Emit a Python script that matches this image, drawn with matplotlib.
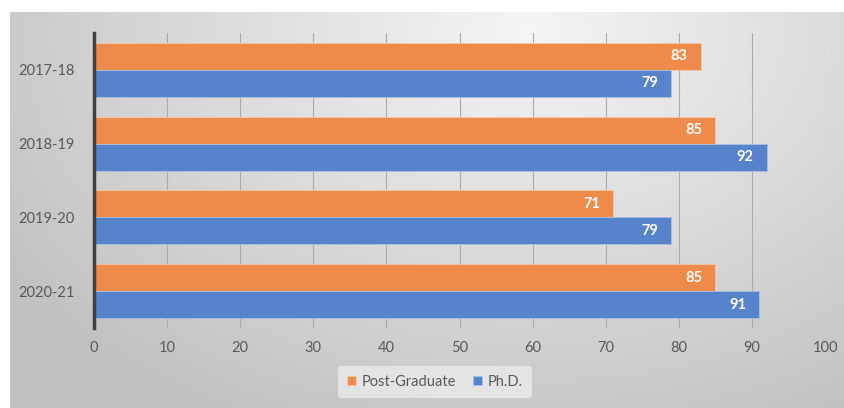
import numpy as np
import matplotlib
matplotlib.use("Agg")
import matplotlib.pyplot as plt

plt.rcParams['font.family'] = ['Lato', 'DejaVu Sans']

years = ["2017-18", "2018-19", "2019-20", "2020-21"]
post_grad = [83, 85, 71, 85]
phd = [79, 92, 79, 91]

fig = plt.figure(figsize=[8.45, 4.08], dpi=100)

# gradient background of the chart frame
bg = fig.add_axes([10/845, 0, 835/845, 1 - 12/408], zorder=0)
yy, xx = np.mgrid[0:1:200j, 0:1:400j]
r = np.sqrt(((xx - 0.62) / 0.75) ** 2 + ((yy - 0.05) / 1.1) ** 2)
g = np.clip(0.96 - 0.2 * r, 0.76, 0.96)
bg.imshow(np.dstack([g, g, g]), aspect="auto", extent=[0, 1, 0, 1], origin="upper")
bg.set_axis_off()

ax = fig.add_axes([94/845, 1 - 328/408, 731/845, 295/408], zorder=1)
ax.patch.set_alpha(0)

y = np.arange(len(years))
h = 0.365
b1 = ax.barh(y - h/2, post_grad, h, color="#EE8B4B", edgecolor="#f6c9a8", linewidth=0.6, label="Post-Graduate", zorder=3)
b2 = ax.barh(y + h/2, phd, h, color="#5683CC", edgecolor="#a9c0e6", linewidth=0.6, label="Ph.D.", zorder=3)

for bars in (b1, b2):
    for rect in bars:
        w = rect.get_width()
        ax.text(w - 1.8, rect.get_y() + rect.get_height()/2, "{}".format(int(w)),
                ha="right", va="center", color="white", fontsize=10.5, fontweight="bold", zorder=4)

ax.set_xlim(0, 100)
ax.set_ylim(3.5, -0.5)
ax.set_xticks(range(0, 101, 10))
ax.set_yticks(y)
ax.set_yticklabels(years)
ax.grid(axis="x", color="#ababab", linewidth=0.8, zorder=0)
ax.tick_params(length=0, labelsize=10.5, colors="#595959", pad=9)
ax.tick_params(axis="y", pad=14)
for s in ["top", "right", "bottom"]:
    ax.spines[s].set_visible(False)
ax.spines["left"].set_color("#404040")
ax.spines["left"].set_linewidth(2.5)
ax.spines["left"].set_zorder(5)

leg = fig.legend(loc="center", bbox_to_anchor=(435/845, 1 - 382/408), ncol=2,
                 frameon=True, fontsize=10.5, handlelength=0.6, handleheight=0.6,
                 columnspacing=1.2, handletextpad=0.4, borderpad=0.6)
leg.get_frame().set_facecolor("#ebebeb")
leg.get_frame().set_edgecolor("none")
leg.get_frame().set_alpha(0.8)
for t in leg.get_texts():
    t.set_color("#595959")

fig.savefig("out.png", dpi=100)
